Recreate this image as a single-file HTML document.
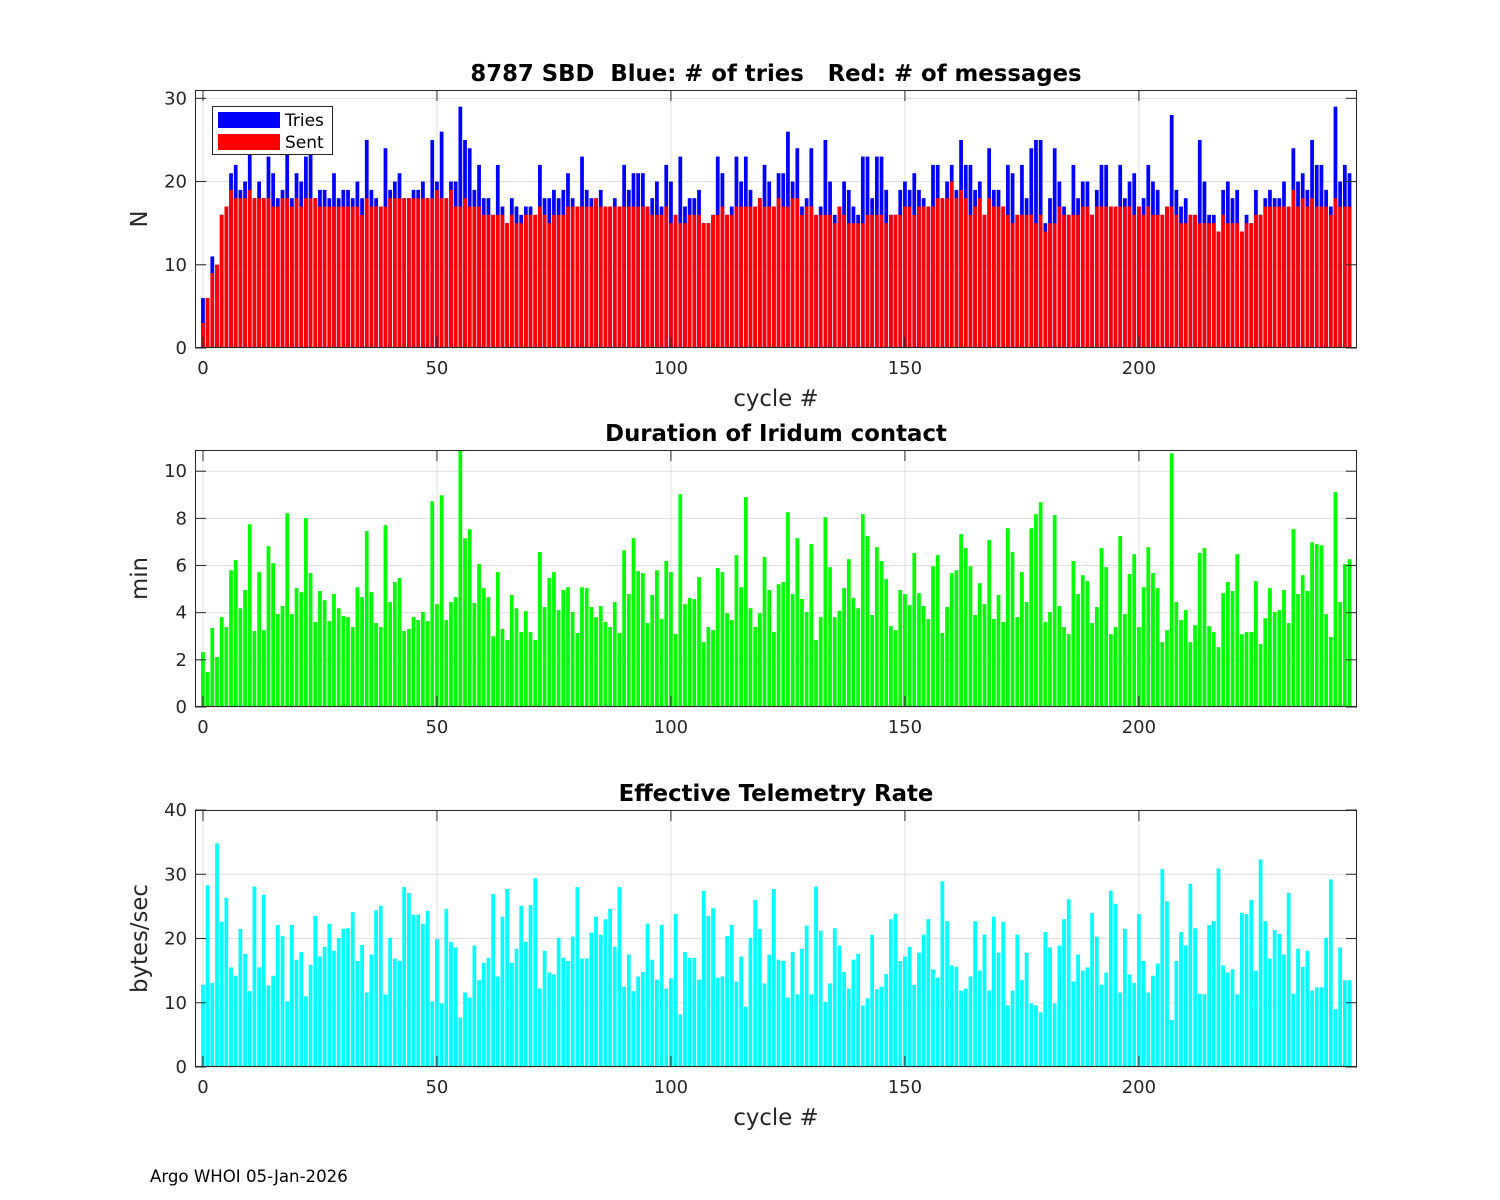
<!DOCTYPE html>
<html><head><meta charset="utf-8"><style>
html,body{margin:0;padding:0;background:#fff;}
svg{display:block;font-family:"DejaVu Sans","Liberation Sans",sans-serif;}
</style></head><body>
<svg id="chart" width="1500" height="1200" viewBox="0 0 1500 1200" xmlns="http://www.w3.org/2000/svg">
<rect width="1500" height="1200" fill="#fff"/>
<text x="150" y="1182" font-size="16.6" fill="#000">Argo WHOI 05-Jan-2026</text>
</svg>
<script>
const xTicks = [0, 50, 100, 150, 200];
const tries = [6,6,11,10,16,17,21,22,19,20,24,18,20,18,23,21,18,19,24,18,21,20,23,24,18,19,19,18,21,18,19,19,18,20,18,25,19,18,17,24,19,20,21,18,18,19,19,20,18,25,20,26,18,20,20,29,25,24,19,22,18,18,16,22,17,15,18,17,16,17,17,16,22,18,18,19,18,19,21,18,17,23,19,18,18,19,17,17,18,17,22,19,21,21,21,17,18,20,17,22,20,16,23,17,18,18,19,15,15,16,23,21,16,17,23,20,23,19,17,18,22,20,17,21,21,26,20,24,17,18,24,16,17,25,20,16,17,20,19,17,16,23,23,18,23,23,19,16,16,19,20,19,21,19,18,17,22,22,18,20,22,19,25,22,22,19,20,16,24,19,19,17,22,21,16,22,18,24,25,25,15,18,24,20,17,16,22,18,20,20,16,19,22,22,17,17,22,18,20,21,17,18,22,20,19,16,17,28,19,17,18,16,16,25,20,16,16,14,19,20,18,19,14,16,15,19,16,18,19,18,18,20,17,24,20,21,19,25,22,22,19,17,29,20,22,21];
const sent = [3,6,9,10,16,17,19,18,18,18,19,18,18,18,18,17,17,18,18,17,18,17,18,18,18,17,17,17,17,17,17,17,17,17,16,18,17,17,17,17,18,18,18,18,18,18,18,18,18,18,19,18,18,19,17,17,18,17,17,17,16,16,16,16,16,15,16,15,15,16,16,16,17,16,15,16,16,16,17,17,17,17,17,17,18,17,17,17,17,17,17,17,17,17,17,17,16,16,16,17,15,16,15,15,16,16,16,15,15,16,16,17,16,16,17,17,17,17,17,18,17,17,17,18,17,17,18,18,16,17,17,16,16,16,16,15,17,16,15,15,15,15,16,16,16,16,15,16,16,16,17,17,16,17,17,17,17,18,18,18,20,18,19,18,16,17,18,16,18,17,17,17,16,15,16,16,16,16,15,16,14,15,15,17,16,16,16,16,17,17,16,17,17,17,17,17,17,17,17,16,17,16,17,16,16,16,17,17,16,15,15,16,16,15,15,15,15,14,16,15,15,15,14,15,15,16,16,17,17,17,17,17,17,19,17,18,17,18,17,17,17,16,18,17,17,17];
const duration = [2.33,1.48,3.35,2.12,3.81,3.39,5.8,6.23,4.19,4.96,7.75,3.22,5.72,3.26,6.82,6.1,3.94,4.28,8.22,3.94,5.04,4.87,8.01,5.68,3.6,4.92,4.53,3.64,4.79,4.19,3.86,3.81,3.39,5.08,4.66,7.46,4.87,3.56,3.39,7.71,4.45,5.3,5.47,3.22,3.31,3.81,3.69,4.03,3.64,8.73,4.36,8.98,3.69,4.45,4.66,11.2,7.16,7.54,4.41,6.06,5.04,4.66,3.0,5.72,3.31,2.84,4.75,4.19,3.18,4.07,3.18,2.84,6.57,4.24,5.47,5.72,4.11,4.96,5.08,4.03,3.14,5.08,5.04,4.24,3.81,4.28,3.6,3.39,4.45,3.14,6.65,4.79,7.16,5.76,5.68,3.56,4.75,5.8,3.73,6.19,5.72,3.09,9.03,4.36,4.62,4.58,5.51,2.75,3.39,3.26,5.89,5.72,3.98,3.69,6.44,5.08,8.9,4.19,3.39,3.98,6.36,4.96,3.18,5.21,5.3,8.26,4.79,7.16,4.58,4.03,6.91,2.84,3.81,8.05,5.93,3.81,4.07,5.04,6.27,4.62,4.19,8.18,7.25,3.9,6.78,6.19,5.42,3.43,3.26,4.96,4.79,4.32,6.53,4.83,4.28,3.73,5.97,6.44,3.14,4.24,5.68,5.8,7.33,6.74,5.97,3.9,5.25,4.36,7.08,3.73,4.75,3.6,7.58,6.57,3.81,5.72,4.45,7.58,8.18,8.69,3.6,4.03,8.14,4.28,3.39,3.09,6.19,4.79,5.59,5.34,3.56,4.24,6.74,5.93,3.09,3.39,7.25,3.94,5.64,6.48,3.39,5.08,6.78,5.68,5.04,2.75,3.26,10.76,4.45,3.69,4.11,2.75,3.47,6.53,6.74,3.43,3.18,2.54,4.83,5.3,4.92,6.48,3.09,3.18,3.18,5.34,2.67,3.77,5.04,4.03,4.11,4.96,3.56,7.54,4.79,5.59,4.92,6.99,6.91,6.86,3.94,2.97,9.11,4.45,6.06,6.27];
const rate = [12.8,28.3,13.1,34.8,22.6,26.3,15.5,14.2,21.5,17.6,11.8,28.1,15.5,26.8,12.7,14.2,22.1,20.4,10.2,22.1,16.7,17.9,11.0,15.9,23.5,17.2,18.7,22.3,18.1,20.1,21.5,21.6,24.1,16.5,19.0,11.6,17.5,24.4,25.1,11.3,20.1,16.9,16.5,28.0,27.1,23.7,23.7,22.3,24.3,10.2,19.9,9.9,24.6,19.5,18.6,7.7,11.6,10.8,18.9,13.5,16.2,17.0,26.9,14.1,23.4,27.7,16.2,18.4,25.1,19.5,25.2,29.4,12.2,18.1,14.7,14.4,20.1,17.0,16.5,20.3,28.0,16.9,16.9,20.9,23.4,20.6,23.0,24.6,18.7,28.0,12.5,17.5,11.8,14.1,14.8,22.3,16.7,13.6,22.1,12.2,13.8,23.8,8.2,17.9,17.0,17.0,13.6,27.4,23.5,24.7,13.9,14.1,20.4,22.1,13.3,17.2,9.4,20.1,26.0,21.5,13.0,17.5,27.7,16.7,16.5,10.8,17.9,11.3,18.4,22.0,11.3,28.1,21.2,10.1,13.0,21.6,18.9,14.8,12.2,16.7,17.6,9.6,10.7,20.6,12.1,12.5,14.5,23.0,23.8,16.5,17.2,18.7,12.8,17.8,20.6,23.0,15.2,13.9,28.9,22.7,15.8,15.6,11.9,12.2,14.1,22.7,15.0,20.6,11.9,23.4,17.8,22.6,9.6,11.9,20.6,13.5,17.8,9.9,9.6,8.5,21.0,18.6,9.9,18.9,23.0,26.1,13.3,17.5,15.0,15.5,24.0,20.3,12.8,14.7,27.4,25.4,11.6,21.5,14.4,13.1,23.8,16.5,11.6,14.2,16.1,30.8,25.8,7.3,16.5,21.0,18.9,28.5,21.6,11.4,11.3,22.1,22.7,30.9,15.8,14.7,15.2,11.3,24.0,23.8,26.0,15.0,32.3,22.7,16.9,21.3,20.7,17.5,27.1,11.4,18.4,15.6,18.1,11.9,12.4,12.4,20.1,29.2,9.0,18.6,13.5,13.5];
const yTicks1 = [0, 10, 20, 30];
const yTicks2 = [0, 2, 4, 6, 8, 10];
const yTicks3 = [0, 10, 20, 30, 40];

const NS = "http://www.w3.org/2000/svg";
const svg = document.getElementById('chart');
const X0 = 195, X1 = 1357, XMIN = -1.7, XMAX = 246.6;
function xs(v){ return X0 + (v - XMIN) / (XMAX - XMIN) * (X1 - X0); }
const step = (X1 - X0) / (XMAX - XMIN);
const bw = step * 0.8;
function mk(tag, attrs, parent){ const e = document.createElementNS(NS, tag); for (const k in attrs) e.setAttribute(k, attrs[k]); (parent || svg).appendChild(e); return e; }

function panel(cfg){
  const g = mk('g', {});
  
  
  const top = cfg.top, bot = cfg.bot, ymax = cfg.ymax;
  const ys = v => bot - v / ymax * (bot - top);
  xTicks.forEach(t => { const l = mk('line', {x1: xs(t), x2: xs(t), y1: top, y2: bot, stroke: '#dfdfdf', 'stroke-width': 1}, g);   });
  cfg.yTicks.forEach(t => { const l = mk('line', {x1: X0, x2: X1, y1: ys(t), y2: ys(t), stroke: '#dfdfdf', 'stroke-width': 1}, g);   });
  cfg.series.forEach(s => {
    s.data.forEach((v, i) => {
      const y = ys(Math.min(v, ymax));
      const r = mk('rect', {x: xs(i) - bw / 2, y: y, width: bw, height: bot - y, fill: s.color}, g);
      
      
    });
  });
  const b = mk('rect', {x: X0 + 0.5, y: top + 0.5, width: X1 - X0 - 1, height: bot - top - 1, fill: 'none', stroke: '#262626', 'stroke-width': 1}, g);
  
  
  xTicks.forEach(t => {
    mk('line', {x1: xs(t), x2: xs(t), y1: bot, y2: bot - 11, stroke: '#262626'}, g);
    mk('line', {x1: xs(t), x2: xs(t), y1: top, y2: top + 11, stroke: '#262626'}, g);
    const tx = mk('text', {x: xs(t), y: bot + 26, 'font-size': 18, fill: '#262626', 'text-anchor': 'middle'}, g);
    
    
    tx.textContent = t;
  });
  cfg.yTicks.forEach(t => {
    mk('line', {x1: X0, x2: X0 + 11, y1: ys(t), y2: ys(t), stroke: '#262626'}, g);
    mk('line', {x1: X1, x2: X1 - 11, y1: ys(t), y2: ys(t), stroke: '#262626'}, g);
    const tx = mk('text', {x: X0 - 8, y: ys(t) + 6, 'font-size': 18, fill: '#262626', 'text-anchor': 'end'}, g);
    
    
    tx.textContent = t;
  });
  const ttl = mk('text', {x: (X0 + X1) / 2, y: top - 9, 'font-size': 22.8, 'font-weight': 'bold', fill: '#000', 'text-anchor': 'middle'}, g);
  
  
  ttl.setAttribute('xml:space', 'preserve');
  ttl.style.whiteSpace = 'pre';
  ttl.textContent = cfg.title;
  const yl = mk('text', {x: 0, y: 0, 'font-size': 22.8, fill: '#262626', 'text-anchor': 'middle', transform: `translate(147,${(top + bot) / 2}) rotate(-90)`}, g);
  
  
  yl.textContent = cfg.ylabel;
  if (cfg.xlabel) {
    const xl = mk('text', {x: (X0 + X1) / 2, y: bot + 58, 'font-size': 22.8, fill: '#262626', 'text-anchor': 'middle'}, g);
    
    
    xl.textContent = 'cycle #';
  }
  return g;
}

panel({name: 'sbd-panel', top: 90, bot: 348, ymax: 31, yTicks: yTicks1, title: '8787 SBD  Blue: # of tries   Red: # of messages', ylabel: 'N', xlabel: true,
  series: [{data: tries, color: '#0000ff', bar: 'tries-bar'}, {data: sent, color: '#ff0000', bar: 'sent-bar'}]});
panel({name: 'duration-panel', top: 450, bot: 707, ymax: 10.9, yTicks: yTicks2, title: 'Duration of Iridum contact', ylabel: 'min', xlabel: false,
  series: [{data: duration, color: '#00ff00', bar: 'duration-bar'}]});
panel({name: 'rate-panel', top: 810, bot: 1067, ymax: 40, yTicks: yTicks3, title: 'Effective Telemetry Rate', ylabel: 'bytes/sec', xlabel: true,
  series: [{data: rate, color: '#00ffff', bar: 'rate-bar'}]});

const lg = mk('g', {});


mk('rect', {x: 212.5, y: 106.5, width: 120, height: 48, fill: '#fff', stroke: '#262626'}, lg);
const e1 = mk('rect', {x: 218, y: 112, width: 62, height: 16, fill: '#0000ff'}, lg);


const e2 = mk('rect', {x: 218, y: 134, width: 62, height: 16, fill: '#ff0000'}, lg);


const t1 = mk('text', {x: 285, y: 126, 'font-size': 17, fill: '#000'}, lg);


t1.textContent = 'Tries';
const t2 = mk('text', {x: 285, y: 148, 'font-size': 17, fill: '#000'}, lg);


t2.textContent = 'Sent';
</script>
</body></html>
